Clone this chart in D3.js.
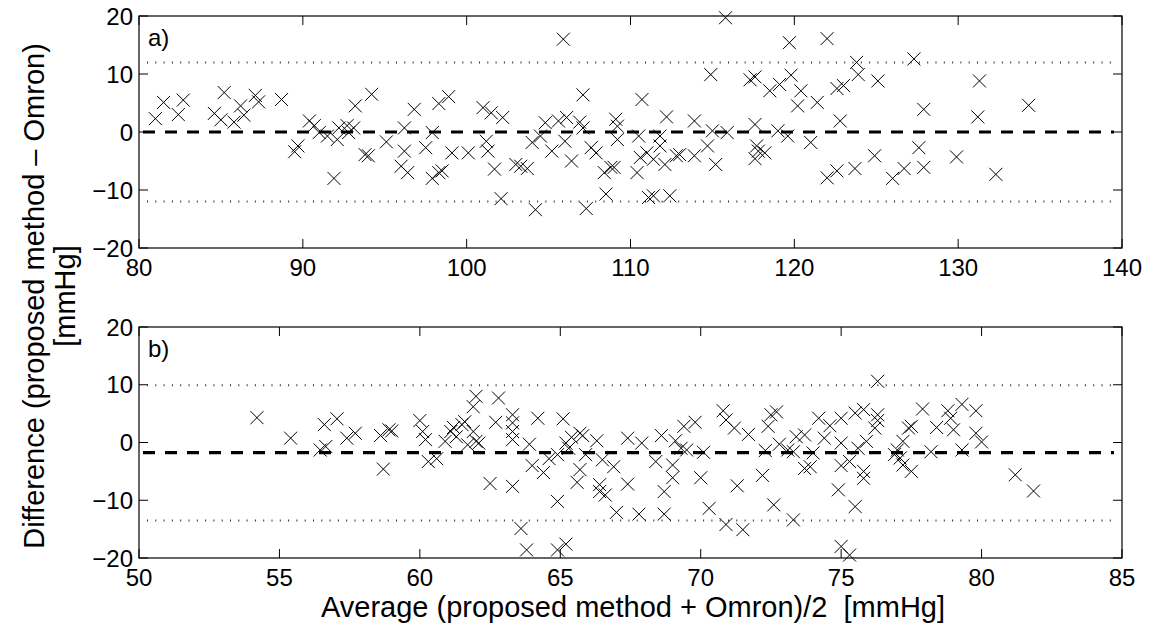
<!DOCTYPE html>
<html><head><meta charset="utf-8">
<script src="https://cdn.jsdelivr.net/npm/d3@7"></script>
<style>body{margin:0;background:#fff}svg{display:block}text{font-family:"Liberation Sans",Arial,sans-serif;fill:#000}</style>
</head><body>
<script>
// Panel a) data
const topX = [81.0,81.5,82.4,82.7,84.6,85.2,85.0,85.8,86.2,86.4,87.1,87.3,88.7,89.5,89.7,90.4,90.7,91.0,91.5,91.9,92.1,92.2,92.7,92.8,93.2,93.1,94.2,93.8,94.0,95.1,96.2,96.8,96.2,96.0,96.4,97.5,97.9,98.3,98.9,97.9,98.3,98.5,99.1,100.1,101.0,101.5,102.2,101.2,101.3,101.7,102.1,103.0,103.3,103.7,104.2,104.0,104.8,104.5,105.2,105.9,105.6,106.1,106.0,106.4,107.1,106.9,107.1,107.6,107.9,107.3,108.4,108.8,108.5,109.1,109.2,109.2,109.0,110.7,110.5,110.6,111.0,111.4,110.4,111.1,111.4,111.8,111.8,112.1,112.2,112.4,112.8,113.0,113.9,113.9,114.7,114.9,115.0,115.2,115.8,115.9,117.3,117.6,117.6,117.7,117.8,118.2,117.6,118.5,119.1,119.0,119.6,119.7,119.8,120.4,120.2,121.0,121.4,122.0,122.0,122.6,122.8,122.6,123.0,123.7,123.8,123.9,124.9,125.1,126.0,126.7,127.3,127.6,127.9,127.9,129.9,131.2,131.3,132.3,134.3];
const topY = [2.3,5.1,3.0,5.5,3.2,6.8,2.1,1.7,4.5,2.9,6.3,5.2,5.6,-3.4,-2.4,1.9,1.1,-0.1,-0.7,-8.0,-1.3,0.7,1.1,-0.1,4.5,0.7,6.5,-3.9,-4.1,-1.7,0.7,3.9,-3.3,-5.9,-7.0,-2.7,-0.1,4.9,6.1,-8.0,-7.0,-6.7,-3.6,-3.6,4.2,3.3,2.5,-1.6,-3.3,-6.4,-11.5,-5.6,-5.9,-6.3,-13.4,-1.8,1.6,-0.7,-3.3,16.0,1.9,2.5,-1.6,-5.0,6.4,1.7,0.7,-2.7,-3.6,-13.2,-7.0,-6.1,-10.7,2.2,1.0,-1.3,-6.1,5.6,-0.7,-4.4,-3.6,-4.7,-7.0,-11.3,-11.0,-0.7,-2.4,-5.6,2.6,-11.0,-4.1,-3.9,-4.1,1.9,-2.4,9.9,0.2,-5.6,19.7,-0.1,9.0,9.5,1.3,-2.4,-3.3,-3.6,-4.6,7.1,8.2,0.2,-0.7,15.4,9.8,7.1,4.5,-1.8,5.1,16.1,-7.9,-6.7,1.9,7.5,8.0,-6.3,12.0,9.9,-4.1,8.8,-8.0,-6.3,12.6,-2.7,3.9,-6.1,-4.3,2.6,8.8,-7.3,4.6];
const topLines = [0, 12.0, -12.0]; // mean, upper LoA, lower LoA
const topXTicks = [80,90,100,110,120,130,140];

// Panel b) data
const botX = [54.2,55.4,56.45,56.6,56.65,57.05,57.4,57.7,58.6,58.7,58.9,59.0,60.0,60.1,60.2,60.3,60.6,60.9,61.1,61.2,61.3,61.5,61.6,61.7,61.9,61.9,62.0,62.0,62.1,62.5,62.7,62.8,63.3,63.3,63.3,63.3,63.3,63.6,63.8,63.9,64.0,64.2,64.4,64.6,64.9,64.9,65.2,65.1,64.9,65.2,65.3,65.4,65.6,65.7,65.7,65.8,65.9,66.3,66.4,66.4,66.6,66.5,66.9,67.0,67.4,67.4,67.9,67.8,68.4,68.6,68.7,68.7,69.0,69.0,69.1,69.3,69.4,69.5,69.8,70.0,70.1,70.3,70.8,70.9,70.9,71.2,71.3,71.5,71.7,72.2,72.3,72.4,72.5,72.7,72.6,72.8,73.1,73.3,73.3,73.4,73.7,73.7,73.9,74.0,74.2,74.4,74.6,74.9,75.0,75.0,75.0,75.0,75.3,75.3,75.5,75.6,75.5,75.8,75.8,75.8,75.9,76.2,76.3,76.3,76.3,76.9,77.1,77.2,77.2,77.4,77.5,77.5,77.0,77.9,78.2,78.4,78.8,78.9,79.0,79.3,79.3,79.8,79.8,80.0,81.2,81.85];
const botY = [4.3,0.75,-1.3,3.1,-0.7,4.1,0.75,1.6,1.2,-4.6,2.2,2.0,3.8,1.9,0.5,-3.3,-2.8,0.2,1.9,2.6,1.0,3.1,3.6,-0.4,1.9,6.2,8.0,0.2,-0.1,-7.1,3.5,7.7,-7.6,4.8,3.4,1.9,0.5,-14.9,-18.6,-0.3,-4.0,4.2,-5.2,-2.8,-10.2,-18.6,-17.6,4.1,-2.1,-0.1,-1.0,0.9,-6.9,-4.7,1.6,1.2,-2.1,0.3,-7.3,-8.5,-9.1,-3.0,-4.2,-12.1,0.75,-7.2,-0.1,-12.4,-3.3,1.2,-8.5,-12.4,-3.9,-6.1,0.3,-1.0,2.8,-1.3,3.5,-6.1,-1.7,-11.4,5.5,3.9,-14.2,2.5,-7.5,-15.1,1.4,-5.7,-1.4,2.8,4.8,5.3,-10.8,-0.3,-1.3,-1.6,-13.4,1.0,1.3,-4.5,-4.2,-1.8,4.2,0.75,2.9,-8.2,-18.0,-0.1,4.2,-4.0,-19.5,-3.3,-11.1,-1.0,5.1,-6.2,-5.0,5.7,0.2,2.5,10.6,4.8,3.8,-2.1,-2.7,0.2,-3.9,2.5,2.8,-5.0,-1.3,5.8,-1.6,2.6,5.5,4.2,2.2,6.6,-1.3,5.5,1.6,0.1,-5.6,-8.4];
const botLines = [-1.75, 9.9, -13.5];
const botXTicks = [50,55,60,65,70,75,80,85];

const yTicks = [-20,-10,0,10,20];
const W = 1151, H = 628;
const FS = 24, LFS = 29;
const svg = d3.select("body").append("svg").attr("width", W).attr("height", H);
const fmt = v => (v < 0 ? "\u2212" + Math.abs(v) : String(v));

function panel(cfg) {
  const {xs, ys, xDom, xTicks, lines, top, bottom, label} = cfg;
  const left = 139, right = 1122;
  const x = d3.scaleLinear().domain(xDom).range([left, right]);
  const y = d3.scaleLinear().domain([-20, 20]).range([bottom, top]);
  const g = svg.append("g");
  const tl = 9;
  xTicks.forEach(t => {
    g.append("line").attr("x1", x(t)).attr("x2", x(t)).attr("y1", bottom).attr("y2", bottom - tl).attr("stroke", "#000");
    g.append("line").attr("x1", x(t)).attr("x2", x(t)).attr("y1", top).attr("y2", top + tl).attr("stroke", "#000");
    g.append("text").attr("x", x(t)).attr("y", bottom + 28).attr("text-anchor", "middle").attr("font-size", FS).text(fmt(t));
  });
  yTicks.forEach(t => {
    g.append("line").attr("x1", left).attr("x2", left + tl).attr("y1", y(t)).attr("y2", y(t)).attr("stroke", "#000");
    g.append("line").attr("x1", right).attr("x2", right - tl).attr("y1", y(t)).attr("y2", y(t)).attr("stroke", "#000");
    g.append("text").attr("x", left - 6).attr("y", y(t) + 8.5).attr("text-anchor", "end").attr("font-size", FS).text(fmt(t));
  });
  g.append("line").attr("x1", left + 8).attr("x2", right - 8).attr("y1", y(lines[1])).attr("y2", y(lines[1]))
    .attr("stroke", "#333").attr("stroke-width", 2).attr("stroke-dasharray", "1,7.3");
  g.append("line").attr("x1", left + 8).attr("x2", right - 8).attr("y1", y(lines[2])).attr("y2", y(lines[2]))
    .attr("stroke", "#333").attr("stroke-width", 2).attr("stroke-dasharray", "1,7.3");
  g.append("line").attr("x1", left + 4).attr("x2", right - 8).attr("y1", y(lines[0])).attr("y2", y(lines[0]))
    .attr("stroke", "#000").attr("stroke-width", 3.2).attr("stroke-dasharray", "12,10");
  const s = 6.5;
  g.append("g").selectAll("path").data(xs.map((v, i) => [v, ys[i]])).join("path")
    .attr("d", d => `M${x(d[0]) - s},${y(d[1]) - s}L${x(d[0]) + s},${y(d[1]) + s}M${x(d[0]) - s},${y(d[1]) + s}L${x(d[0]) + s},${y(d[1]) - s}`)
    .attr("stroke", "#000").attr("stroke-width", 1).attr("fill", "none");
  g.append("rect").attr("x", left).attr("y", top).attr("width", right - left).attr("height", bottom - top)
    .attr("fill", "none").attr("stroke", "#000").attr("stroke-width", 1.2);
  g.append("text").attr("x", left + 9).attr("y", top + 30).attr("font-size", FS).text(label);
}

panel({xs: topX, ys: topY, xDom: [80, 140], xTicks: topXTicks, lines: topLines, top: 16, bottom: 248, label: "a)"});
panel({xs: botX, ys: botY, xDom: [50, 85], xTicks: botXTicks, lines: botLines, top: 327, bottom: 558, label: "b)"});

svg.append("text").attr("x", 633).attr("y", 617).attr("text-anchor", "middle").attr("font-size", LFS)
  .style("white-space", "pre")
  .text("Average (proposed method + Omron)/2  [mmHg]");
const yl = svg.append("text").attr("transform", "translate(44,296) rotate(-90)").attr("text-anchor", "middle").attr("font-size", LFS);
yl.append("tspan").attr("x", 0).attr("dy", 0).text("Difference (proposed method \u2013 Omron)");
yl.append("tspan").attr("x", 0).attr("dy", 31).text("[mmHg]");
</script>
</body></html>
